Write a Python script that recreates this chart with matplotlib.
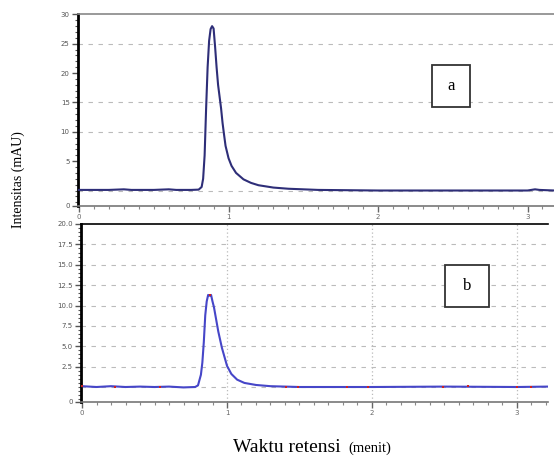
import numpy as np
import matplotlib
matplotlib.use("Agg")
import matplotlib.pyplot as plt
from matplotlib.patches import Rectangle
from matplotlib.ticker import MultipleLocator

# ── data ──────────────────────────────────────────────────────────────────
# panel a
t_a = [0.00, 0.10, 0.20, 0.30, 0.35, 0.50, 0.60, 0.65, 0.75, 0.80, 0.82,
       0.83, 0.84, 0.85, 0.86, 0.87, 0.88, 0.89, 0.90, 0.91, 0.92, 0.93,
       0.94, 0.95, 0.96, 0.97, 0.98, 1.00, 1.02, 1.05, 1.10, 1.15, 1.20,
       1.30, 1.40, 1.50, 1.60, 2.00, 2.50, 3.00, 3.05, 3.08, 3.18]
i_a = [0.1, 0.1, 0.1, 0.2, 0.1, 0.1, 0.2, 0.1, 0.1, 0.15, 0.6,
       2.0, 6.0, 14.0, 21.0, 25.5, 27.5, 28.0, 27.6, 24.5, 21.0, 18.0,
       16.0, 14.0, 11.5, 9.5, 7.6, 5.5, 4.2, 3.0, 1.9, 1.3, 0.9,
       0.5, 0.3, 0.2, 0.1, 0.0, 0.0, 0.0, 0.2, 0.1, 0.0]

# panel b
t_b = [0.00, 0.10, 0.20, 0.30, 0.40, 0.50, 0.60, 0.70, 0.78, 0.80, 0.82,
       0.83, 0.84, 0.85, 0.86, 0.87, 0.88, 0.89, 0.90, 0.91, 0.92, 0.94,
       0.965, 1.00, 1.03, 1.07, 1.12, 1.20, 1.30, 1.50, 2.00, 2.50, 3.00, 3.21]
i_b = [0.1, 0.0, 0.1, 0.0, 0.05, 0.0, 0.05, -0.05, 0.0, 0.2, 1.5,
       3.0, 5.5, 8.8, 10.5, 11.3, 11.2, 11.3, 10.5, 9.8, 8.8, 6.8,
       4.8, 2.6, 1.6, 0.9, 0.5, 0.25, 0.1, 0.0, 0.0, 0.05, 0.0, 0.05]

# red integration marks on trace b
t_mark_b = [0.0, 0.23, 0.54, 0.88, 1.41, 1.49, 1.83, 1.97, 2.49, 2.66, 3.0, 3.1]
i_mark_b = [0.1, 0.05, 0.0, 11.3, 0.0, 0.0, 0.0, 0.0, 0.05, 0.1, 0.0, 0.0]

yticks_a = [5, 10, 15, 20, 25, 30]
grid_a = [0, 10, 15, 25]
yticks_b = [2.5, 5.0, 7.5, 10.0, 12.5, 15.0, 17.5, 20.0]
xticks = [0, 1, 2, 3]
vgrid_b = [1, 2, 3]

# ── figure ────────────────────────────────────────────────────────────────
W, H = 554, 459
fig = plt.figure(figsize=(W / 100, H / 100), dpi=100)
fig.patch.set_facecolor("white")


def px_axes(x0, y0, x1, y1):
    """axes from pixel box (top-left origin)"""
    return fig.add_axes([x0 / W, 1 - y1 / H, (x1 - x0) / W, (y1 - y0) / H])


def style(ax, ylim, yticks, ylabels, topcol, minor):
    ax.set_ylim(*ylim)
    ax.set_yticks([ylim[0]] + list(yticks))
    ax.set_yticklabels(["0"] + ylabels)
    ax.yaxis.set_minor_locator(MultipleLocator(minor))
    ax.set_xticks(xticks)
    ax.set_xticklabels([str(x) for x in xticks])
    ax.xaxis.set_minor_locator(MultipleLocator(0.1))
    ax.spines["right"].set_visible(False)
    ax.spines["left"].set_linewidth(2.0)
    ax.spines["left"].set_color("black")
    ax.spines["top"].set_color(topcol)
    ax.spines["top"].set_linewidth(1.2)
    ax.spines["bottom"].set_color("#777777")
    ax.spines["bottom"].set_linewidth(1.2)
    ax.tick_params(axis="both", which="major", labelsize=5, colors="#666666",
                   length=4, width=1.0, pad=2)
    ax.tick_params(axis="both", which="minor", length=2, width=0.8,
                   colors="#888888")
    ax.tick_params(axis="y", which="both", colors="#555555")


# panel a
ax1 = px_axes(78, 14, 554, 206)
ax1.set_xlim(-0.007, 3.177)
style(ax1, (-2.64, 30.07), yticks_a, [str(v) for v in yticks_a], "#888888", 1.0)
for g in grid_a:
    ax1.axhline(g, color="#bbbbbb", lw=0.8, ls=(0, (4, 5)), zorder=0)
ax1.plot(t_a, i_a, color="#2e2e78", lw=1.5, zorder=3)

# panel b
ax2 = px_axes(81, 224, 548, 402)
ax2.set_xlim(-0.007, 3.214)
style(ax2, (-1.84, 20.0), yticks_b, [f"{v:.1f}" for v in yticks_b],
      "black", 0.5)
for g in yticks_b[:-1] + [0]:
    ax2.axhline(g, color="#bbbbbb", lw=0.8, ls=(0, (4, 5)), zorder=0)
for g in vgrid_b:
    ax2.axvline(g, color="#bbbbbb", lw=0.9, ls=(0, (1, 2)), zorder=0)
ax2.plot(t_b, i_b, color="#4646c8", lw=1.5, zorder=3)
ax2.plot(t_mark_b, i_mark_b, ls="none", marker="s", ms=1.8, mew=0,
         color="#d02020", zorder=4)

# label boxes
for (x0, y0, x1, y1, txt) in [(432, 65, 470, 107, "a"),
                              (445, 265, 489, 307, "b")]:
    fig.patches.append(Rectangle((x0 / W, 1 - y1 / H), (x1 - x0) / W,
                                 (y1 - y0) / H, transform=fig.transFigure,
                                 facecolor="white", edgecolor="#333333",
                                 lw=1.3, zorder=5))
    fig.text((x0 + x1) / 2 / W, 1 - (y0 + y1) / 2 / H, txt,
             fontsize=12, family="Liberation Serif", ha="center",
             va="center", zorder=6)

# axis titles
fig.text(18 / W, 1 - 180 / H, "Intensitas (mAU)", rotation=90,
         family="Liberation Serif", fontsize=10, ha="center", va="center")
fig.text(233 / W, 1 - 452 / H, "Waktu retensi", family="Liberation Serif",
         fontsize=14, ha="left", va="baseline")
fig.text(348 / W, 1 - 452 / H, "(menit)", family="Liberation Serif",
         fontsize=10.5, ha="left", va="baseline")

fig.savefig("out.png", dpi=100, facecolor="white")
